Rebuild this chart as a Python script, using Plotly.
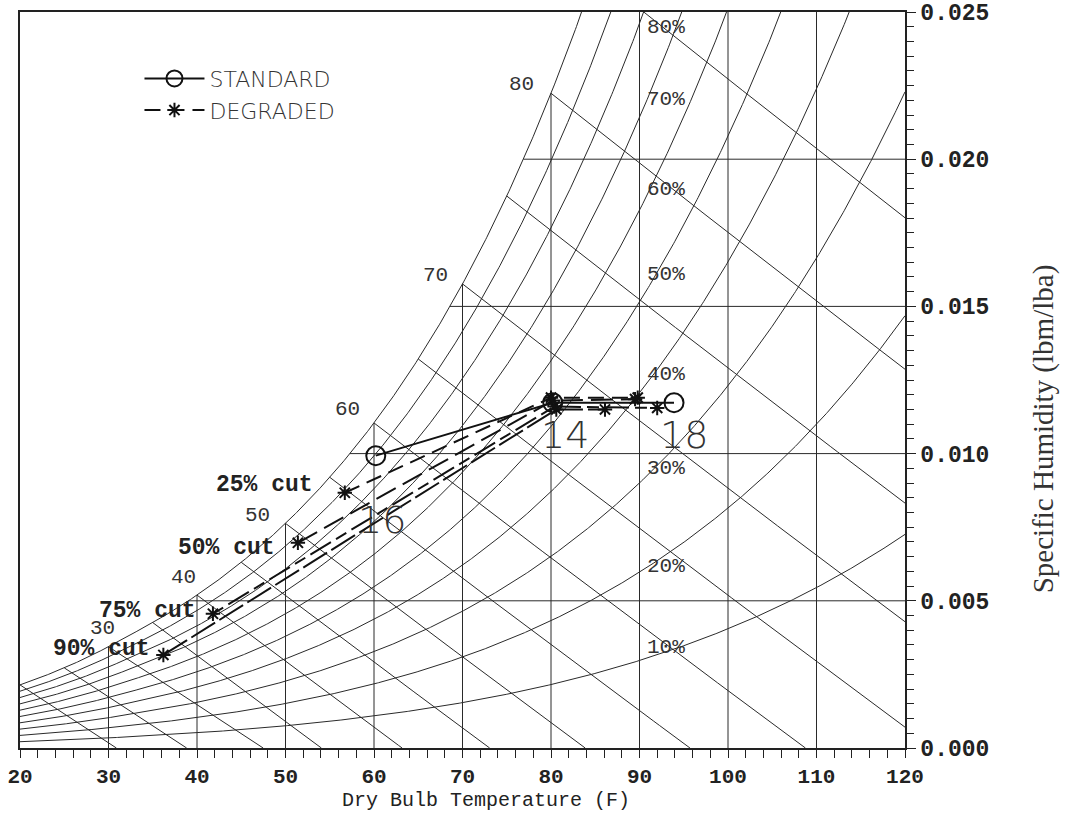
import numpy as np
import plotly.graph_objects as go

# ---------------- data ----------------
RH_LEVELS = [10, 20, 30, 40, 50, 60, 70, 80, 90, 100]          # % relative humidity curves
WB_TEMPS = [20, 25, 30, 35, 40, 45, 50, 55, 60, 65, 70, 75, 80, 85]  # wet-bulb lines (F)
GRID_T = [30, 40, 50, 60, 70, 80, 90, 100, 110]                 # dry-bulb grid (F)
GRID_W = [0.005, 0.010, 0.015, 0.020]                           # humidity grid

WB_LABELS = ["30", "40", "50", "60", "70", "80"]
WB_LABEL_T = [29.3, 38.5, 46.8, 57.0, 66.9, 76.7]
WB_LABEL_W = [0.00405, 0.00578, 0.00789, 0.01150, 0.01605, 0.02255]

RH_LABELS = ["80%", "70%", "60%", "50%", "40%", "30%", "20%", "10%"]
RH_LABEL_T = [93.0] * 8
RH_LABEL_W = [0.02449, 0.02204, 0.01898, 0.01609, 0.01269, 0.00950, 0.00616, 0.00340]

STD_T = [60.2, 80.2, 93.9]
STD_W = [0.00993, 0.01173, 0.01173]
STD_POINT_LABELS = ["16", "14", "18"]
STD_LABEL_T = [60.9, 81.6, 95.0]
STD_LABEL_W = [0.00776, 0.01062, 0.01062]

CUTS = ["25% cut", "50% cut", "75% cut", "90% cut"]
DEG_T = [[56.7, 80.0, 89.8],
         [51.4, 80.2, 89.5],
         [41.8, 80.4, 92.0],
         [36.2, 80.6, 86.1]]
DEG_W = [[0.00867, 0.01190, 0.01190],
         [0.00697, 0.01180, 0.01185],
         [0.00456, 0.01160, 0.01155],
         [0.00316, 0.01150, 0.01150]]
CUT_LABEL_T = [47.6, 43.3, 34.4, 29.2]
CUT_LABEL_W = [0.00894, 0.00680, 0.00466, 0.00336]
DEG_DASH = ["16px,8px", "22px,8px", "12px,6px,24px,6px", "28px,5px"]

# ---------------- psychrometrics (14.696 psia) ----------------
P_ATM = 14.696


def pws(tf):
    tf = np.asarray(tf, dtype=float)
    t = tf + 459.67
    ice = (-1.0214165e4 / t - 4.8932428 - 5.3765794e-3 * t + 1.9202377e-7 * t ** 2
           + 3.5575832e-10 * t ** 3 - 9.0344688e-14 * t ** 4 + 4.1635019 * np.log(t))
    water = (-1.0440397e4 / t - 1.1294650e1 - 2.7022355e-2 * t + 1.2890360e-5 * t ** 2
             - 2.4780681e-9 * t ** 3 + 6.5459673 * np.log(t))
    return np.exp(np.where(tf < 32, ice, water))


def hum_ratio(pw):
    return 0.621945 * pw / (P_ATM - pw)


def wb_curve(twb, t):
    ws = hum_ratio(pws(twb))
    if twb >= 32:
        return ((1093 - 0.556 * twb) * ws - 0.240 * (t - twb)) / (1093 + 0.444 * t - twb)
    return ((1220 - 0.04 * twb) * ws - 0.240 * (t - twb)) / (1220 + 0.444 * t - 0.48 * twb)


def wb_end(twb):
    ws = hum_ratio(pws(twb))
    if twb >= 32:
        return twb + (1093 - 0.556 * twb) * ws / 0.240
    return twb + (1220 - 0.04 * twb) * ws / 0.240


T_GRID = np.linspace(20, 120, 801)
W_SAT = hum_ratio(pws(T_GRID))

LINE_COL = "#2a2a2a"
fig = go.Figure()

# relative humidity curves
xs, ys = [], []
for rh in RH_LEVELS:
    w = hum_ratio(rh / 100.0 * pws(T_GRID))
    xs += list(T_GRID) + [None]
    ys += list(w) + [None]
fig.add_trace(go.Scatter(x=xs, y=ys, mode="lines", line=dict(color=LINE_COL, width=1),
                         hoverinfo="skip", showlegend=False))

# wet-bulb lines
xs, ys = [], []
for twb in WB_TEMPS:
    tend = min(wb_end(twb), 120.0)
    t = np.linspace(twb, tend, 60)
    w = np.maximum(wb_curve(twb, t), 0)
    xs += list(t) + [None]
    ys += list(w) + [None]
fig.add_trace(go.Scatter(x=xs, y=ys, mode="lines", line=dict(color=LINE_COL, width=1),
                         hoverinfo="skip", showlegend=False))

# grid lines bounded by the saturation curve
xs, ys = [], []
for tg in GRID_T:
    wtop = min(float(hum_ratio(pws(tg))), 0.025)
    xs += [tg, tg, None]
    ys += [0, wtop, None]
for wg in GRID_W:
    tsat = float(np.interp(wg, W_SAT, T_GRID))
    xs += [tsat, 120, None]
    ys += [wg, wg, None]
fig.add_trace(go.Scatter(x=xs, y=ys, mode="lines", line=dict(color=LINE_COL, width=1),
                         hoverinfo="skip", showlegend=False))

# degraded paths
for i, cut in enumerate(CUTS):
    fig.add_trace(go.Scatter(
        x=DEG_T[i], y=DEG_W[i], mode="lines+markers", name="DEGRADED",
        legendgroup="deg", showlegend=(i == 0),
        line=dict(color="#111", width=2, dash=DEG_DASH[i]),
        marker=dict(symbol="asterisk-open", size=12, line=dict(color="#111", width=2)),
    ))

# standard path
fig.add_trace(go.Scatter(
    x=STD_T, y=STD_W, mode="lines+markers", name="STANDARD",
    line=dict(color="#111", width=2),
    marker=dict(symbol="circle-open", size=19, color="#111", line=dict(color="#111", width=2)),
))

annotations = []
mono = "Liberation Mono"
for txt, t, w in zip(WB_LABELS, WB_LABEL_T, WB_LABEL_W):
    annotations.append(dict(x=t, y=w, text=txt, showarrow=False,
                            font=dict(family=mono, size=21, color="#333")))
for txt, t, w in zip(RH_LABELS, RH_LABEL_T, RH_LABEL_W):
    annotations.append(dict(x=t, y=w, text=txt, showarrow=False,
                            font=dict(family=mono, size=21, color="#333")))
for txt, t, w in zip(CUTS, CUT_LABEL_T, CUT_LABEL_W):
    annotations.append(dict(x=t, y=w, text=txt, showarrow=False,
                            font=dict(family=mono, size=23, color="#222", weight="bold")))
for txt, t, w in zip(STD_POINT_LABELS, STD_LABEL_T, STD_LABEL_W):
    annotations.append(dict(x=t, y=w, text=txt, showarrow=False,
                            font=dict(family="DejaVu Sans", size=38, color="#333", weight=200)))
# x-axis title (placed slightly right of centre as in the reference)
annotations.append(dict(xref="paper", yref="paper", x=0.527, y=0, yshift=-52,
                        xanchor="center", yanchor="middle", showarrow=False,
                        text="Dry Bulb Temperature (F)",
                        font=dict(family=mono, size=20, color="#222")))
# y-axis title on the far right
annotations.append(dict(xref="paper", yref="paper", x=1, xshift=138, y=0.433,
                        xanchor="center", yanchor="middle", showarrow=False, textangle=-90,
                        text="Specific Humidity (lbm/lba)",
                        font=dict(family="Liberation Serif", size=29, color="#333")))

fig.update_layout(
    width=1065, height=815,
    margin=dict(l=20, r=160, t=12, b=67, autoexpand=False),
    paper_bgcolor="white", plot_bgcolor="white",
    annotations=annotations,
    legend=dict(x=0.135, y=0.938, xanchor="left", yanchor="top",
                bgcolor="rgba(0,0,0,0)", traceorder="reversed",
                font=dict(family="DejaVu Sans", size=22, color="#333", weight=200),
                itemwidth=60, tracegroupgap=0),
    xaxis=dict(range=[20, 120], dtick=10, showgrid=False, zeroline=False, automargin=False,
               showline=True, mirror=True, linecolor="#222", linewidth=1.5,
               ticks="outside", ticklen=8, tickcolor="#222",
               minor=dict(dtick=2, ticks="outside", ticklen=8, tickcolor="#222"),
               tickfont=dict(family=mono, size=21, color="#222", weight="bold")),
    yaxis=dict(range=[0, 0.025], dtick=0.005, side="right", showgrid=False, zeroline=False,
               automargin=False,
               showline=True, mirror=True, linecolor="#222", linewidth=1.5,
               ticks="outside", ticklen=9, tickcolor="#222", tickformat=".3f",
               minor=dict(dtick=0.0005, ticks="outside", ticklen=7, tickcolor="#222"),
               tickfont=dict(family=mono, size=23, color="#222", weight="bold")),
)

fig.write_html("out.html")
